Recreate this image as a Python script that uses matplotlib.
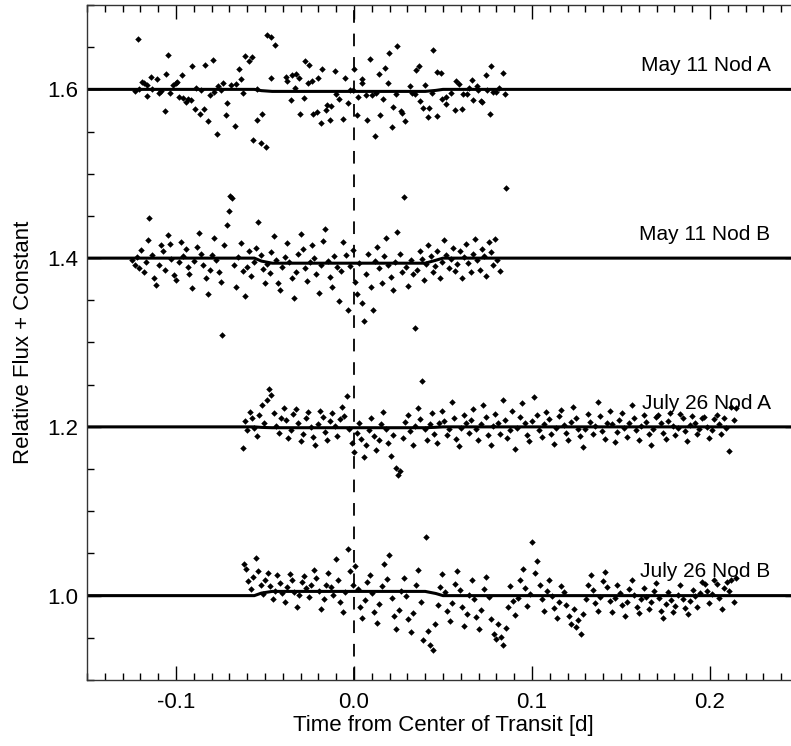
import matplotlib
matplotlib.use("Agg")
import matplotlib.pyplot as plt
from matplotlib.ticker import MultipleLocator

plt.rcParams['font.family'] = ['Liberation Sans', 'DejaVu Sans']

# May 11 Nod A (offset +0.6)
mayA_t = [-0.1213, -0.1232, -0.1208, -0.1189, -0.1180, -0.1161, -0.1165, -0.1142, -0.1133, -0.1109,
          -0.1096, -0.1086, -0.1064, -0.1058, -0.1043, -0.1034, -0.1017, -0.1002, -0.0993, -0.0983,
          -0.0964, -0.0959, -0.0942, -0.0933, -0.0918, -0.0912, -0.0893, -0.0886, -0.0867, -0.0861,
          -0.0843, -0.0837, -0.0818, -0.0811, -0.0792, -0.0785, -0.0768, -0.0762, -0.0749, -0.0736,
          -0.0717, -0.0712, -0.0693, -0.0671, -0.0665, -0.0646, -0.0637, -0.0622, -0.0612, -0.0590,
          -0.0571, -0.0566, -0.0543, -0.0543, -0.0524, -0.0515, -0.0496, -0.0491, -0.0468, -0.0464,
          -0.0446, -0.0384, -0.0378, -0.0356, -0.0350, -0.0331, -0.0328, -0.0309, -0.0303, -0.0280,
          -0.0277, -0.0258, -0.0253, -0.0234, -0.0228, -0.0206, -0.0202, -0.0183, -0.0178, -0.0159,
          -0.0154, -0.0131, -0.0135, -0.0109, -0.0099, -0.0084, -0.0060, -0.0052, -0.0034, -0.0022,
          -0.0004, 0.0000, 0.0015, 0.0024, 0.0043, 0.0047, 0.0071, 0.0066, 0.0090, 0.0099,
          0.0116, 0.0122, 0.0140, 0.0146, 0.0165, 0.0172, 0.0191, 0.0197, 0.0212, 0.0219,
          0.0238, 0.0243, 0.0262, 0.0268, 0.0287, 0.0315, 0.0324, 0.0341, 0.0346, 0.0365,
          0.0371, 0.0390, 0.0397, 0.0421, 0.0416, 0.0440, 0.0446, 0.0468, 0.0464, 0.0490,
          0.0496, 0.0515, 0.0519, 0.0543, 0.0566, 0.0571, 0.0590, 0.0609, 0.0614, 0.0637,
          0.0646, 0.0665, 0.0668, 0.0693, 0.0697, 0.0715, 0.0721, 0.0740, 0.0745, 0.0764,
          0.0768, 0.0783, 0.0796, 0.0815, 0.0837, 0.0848]
mayA_f = [1.6593, 1.5980, 1.6008, 1.6087, 1.6075, 1.6047, 1.5920, 1.6146, 1.6008, 1.6119,
          1.5960, 1.5976, 1.5743, 1.6178, 1.6411, 1.5960, 1.6047, 1.6075, 1.6087, 1.5909,
          1.6174, 1.5897, 1.5850, 1.5889, 1.5877, 1.6277, 1.5771, 1.6020, 1.5711, 1.5996,
          1.5771, 1.6293, 1.5624, 1.5929, 1.6352, 1.5968, 1.5466, 1.6040, 1.5996, 1.6079,
          1.5692, 1.5838, 1.6047, 1.5565, 1.6059, 1.6237, 1.6119, 1.5960, 1.6395, 1.6332,
          1.6384, 1.5403, 1.5632, 1.6000, 1.5363, 1.5711, 1.5316, 1.6640, 1.6621, 1.6138,
          1.6522, 1.6146, 1.6099, 1.5877, 1.6174, 1.6016, 1.6186, 1.6134, 1.5711, 1.5897,
          1.6332, 1.6079, 1.6293, 1.6095, 1.5703, 1.5731, 1.6134, 1.5601, 1.6237, 1.5751,
          1.5810, 1.5798, 1.5632, 1.6217, 1.5941, 1.5889, 1.5652, 1.6134, 1.5838, 1.5988,
          1.5988, 1.6237, 1.5699, 1.5909, 1.6075, 1.6119, 1.5632, 1.5929, 1.6364, 1.5929,
          1.5442, 1.5960, 1.6178, 1.5692, 1.5889, 1.6253, 1.6075, 1.6435, 1.5553, 1.5790,
          1.5941, 1.6514, 1.5739, 1.5723, 1.5620, 1.6036, 1.5957, 1.5949, 1.6225, 1.6277,
          1.5858, 1.5783, 1.6055, 1.5779, 1.5672, 1.5960, 1.6463, 1.6206, 1.5684, 1.6194,
          1.5889, 1.5830, 1.5909, 1.5957, 1.5751, 1.6095, 1.6059, 1.5771, 1.5941, 1.5941,
          1.6020, 1.6115, 1.5877, 1.6036, 1.5996, 1.5862, 1.5850, 1.6166, 1.5996, 1.5703,
          1.6277, 1.5968, 1.5968, 1.6016, 1.6198, 1.5949]

# May 11 Nod B (offset +0.4), (time, flux)
mayB = [(-0.1245, 1.398), (-0.1233, 1.392), (-0.1219, 1.401), (-0.1207, 1.388), (-0.1196, 1.410),
        (-0.1181, 1.383), (-0.1168, 1.396), (-0.1157, 1.421), (-0.1149, 1.447), (-0.1136, 1.404),
        (-0.1121, 1.376), (-0.1112, 1.368), (-0.1097, 1.392), (-0.1085, 1.415), (-0.1071, 1.409),
        (-0.1062, 1.386), (-0.1047, 1.428), (-0.1035, 1.417), (-0.1026, 1.399), (-0.1009, 1.380),
        (-0.0998, 1.374), (-0.0985, 1.395), (-0.0970, 1.419), (-0.0961, 1.402), (-0.0946, 1.411),
        (-0.0932, 1.389), (-0.0925, 1.381), (-0.0909, 1.364), (-0.0897, 1.397), (-0.0884, 1.413),
        (-0.0870, 1.430), (-0.0862, 1.405), (-0.0848, 1.392), (-0.0833, 1.377), (-0.0821, 1.358),
        (-0.0810, 1.386), (-0.0797, 1.404), (-0.0784, 1.424), (-0.0773, 1.398), (-0.0760, 1.383),
        (-0.0749, 1.372), (-0.0740, 1.309), (-0.0728, 1.415), (-0.0716, 1.439), (-0.0705, 1.456),
        (-0.0697, 1.474), (-0.0686, 1.471), (-0.0674, 1.392), (-0.0663, 1.366), (-0.0651, 1.401),
        (-0.0637, 1.418), (-0.0626, 1.385), (-0.0614, 1.355), (-0.0602, 1.390), (-0.0588, 1.408),
        (-0.0577, 1.379), (-0.0563, 1.396), (-0.0551, 1.412), (-0.0539, 1.443), (-0.0525, 1.404),
        (-0.0513, 1.387), (-0.0502, 1.370), (-0.0489, 1.393), (-0.0474, 1.382), (-0.0466, 1.407),
        (-0.0451, 1.426), (-0.0440, 1.398), (-0.0426, 1.371), (-0.0413, 1.362), (-0.0402, 1.389),
        (-0.0388, 1.401), (-0.0375, 1.418), (-0.0364, 1.395), (-0.0350, 1.377), (-0.0337, 1.353),
        (-0.0326, 1.384), (-0.0312, 1.405), (-0.0300, 1.429), (-0.0287, 1.411), (-0.0275, 1.388),
        (-0.0262, 1.373), (-0.0250, 1.396), (-0.0237, 1.415), (-0.0224, 1.400), (-0.0211, 1.381),
        (-0.0199, 1.359), (-0.0186, 1.392), (-0.0173, 1.420), (-0.0162, 1.434), (-0.0148, 1.397),
        (-0.0136, 1.378), (-0.0122, 1.366), (-0.0110, 1.402), (-0.0097, 1.389), (-0.0084, 1.349),
        (-0.0071, 1.385), (-0.0060, 1.419), (-0.0046, 1.404), (-0.0033, 1.338), (-0.0021, 1.391),
        (-0.0008, 1.410), (0.0005, 1.372), (0.0017, 1.358), (0.0030, 1.394), (0.0043, 1.347),
        (0.0055, 1.326), (0.0068, 1.381), (0.0079, 1.405), (0.0093, 1.366), (0.0105, 1.339),
        (0.0117, 1.397), (0.0131, 1.413), (0.0142, 1.388), (0.0156, 1.371), (0.0168, 1.402),
        (0.0181, 1.424), (0.0193, 1.392), (0.0206, 1.378), (0.0218, 1.362), (0.0231, 1.395),
        (0.0244, 1.431), (0.0256, 1.405), (0.0269, 1.384), (0.0281, 1.472), (0.0294, 1.389),
        (0.0306, 1.367), (0.0319, 1.398), (0.0331, 1.381), (0.0343, 1.317), (0.0356, 1.386),
        (0.0368, 1.408), (0.0381, 1.399), (0.0393, 1.374), (0.0406, 1.393), (0.0418, 1.416),
        (0.0431, 1.402), (0.0443, 1.383), (0.0456, 1.391), (0.0469, 1.409), (0.0481, 1.377),
        (0.0494, 1.396), (0.0506, 1.421), (0.0518, 1.404), (0.0531, 1.388), (0.0544, 1.399),
        (0.0556, 1.412), (0.0568, 1.385), (0.0581, 1.393), (0.0594, 1.408), (0.0606, 1.376),
        (0.0618, 1.401), (0.0631, 1.417), (0.0643, 1.394), (0.0656, 1.383), (0.0668, 1.405),
        (0.0681, 1.423), (0.0693, 1.398), (0.0706, 1.386), (0.0718, 1.411), (0.0731, 1.402),
        (0.0743, 1.379), (0.0756, 1.419), (0.0768, 1.407), (0.0781, 1.392), (0.0793, 1.423),
        (0.0806, 1.398), (0.0818, 1.385), (0.0854, 1.483)]

# July 26 Nod A (offset +0.2), (time, flux)
julA = [(-0.0625, 1.175), (-0.0612, 1.207), (-0.0601, 1.196), (-0.0585, 1.218), (-0.0572, 1.211),
        (-0.0559, 1.199), (-0.0545, 1.189), (-0.0531, 1.214), (-0.0519, 1.226), (-0.0504, 1.205),
        (-0.0491, 1.232), (-0.0478, 1.245), (-0.0466, 1.238), (-0.0450, 1.216), (-0.0437, 1.201),
        (-0.0422, 1.193), (-0.0410, 1.210), (-0.0395, 1.222), (-0.0381, 1.208), (-0.0368, 1.187),
        (-0.0354, 1.196), (-0.0340, 1.215), (-0.0327, 1.221), (-0.0313, 1.205), (-0.0299, 1.183),
        (-0.0286, 1.192), (-0.0271, 1.211), (-0.0258, 1.218), (-0.0244, 1.200), (-0.0231, 1.188),
        (-0.0217, 1.179), (-0.0204, 1.203), (-0.0190, 1.219), (-0.0176, 1.212), (-0.0163, 1.194),
        (-0.0149, 1.185), (-0.0136, 1.207), (-0.0122, 1.216), (-0.0108, 1.201), (-0.0095, 1.189),
        (-0.0081, 1.209), (-0.0067, 1.224), (-0.0054, 1.213), (-0.0040, 1.236), (-0.0026, 1.198),
        (-0.0013, 1.181), (0.0001, 1.170), (0.0015, 1.193), (0.0029, 1.205), (0.0042, 1.186),
        (0.0056, 1.164), (0.0070, 1.178), (0.0083, 1.196), (0.0097, 1.211), (0.0111, 1.189),
        (0.0124, 1.172), (0.0138, 1.184), (0.0152, 1.203), (0.0165, 1.218), (0.0179, 1.197),
        (0.0193, 1.181), (0.0206, 1.166), (0.0220, 1.190), (0.0234, 1.151), (0.0247, 1.143),
        (0.0261, 1.148), (0.0275, 1.187), (0.0288, 1.206), (0.0302, 1.214), (0.0316, 1.195),
        (0.0329, 1.179), (0.0343, 1.201), (0.0357, 1.222), (0.0370, 1.209), (0.0384, 1.254),
        (0.0398, 1.198), (0.0411, 1.184), (0.0425, 1.203), (0.0439, 1.216), (0.0452, 1.192),
        (0.0466, 1.181), (0.0480, 1.205), (0.0493, 1.219), (0.0507, 1.207), (0.0521, 1.190),
        (0.0534, 1.198), (0.0548, 1.229), (0.0562, 1.211), (0.0575, 1.186), (0.0589, 1.177),
        (0.0603, 1.199), (0.0616, 1.214), (0.0630, 1.205), (0.0644, 1.193), (0.0657, 1.208),
        (0.0671, 1.221), (0.0685, 1.197), (0.0698, 1.184), (0.0712, 1.203), (0.0726, 1.226),
        (0.0739, 1.212), (0.0753, 1.190), (0.0767, 1.179), (0.0780, 1.201), (0.0794, 1.215),
        (0.0808, 1.204), (0.0821, 1.192), (0.0835, 1.232), (0.0849, 1.208), (0.0862, 1.187),
        (0.0876, 1.196), (0.0890, 1.219), (0.0903, 1.174), (0.0917, 1.199), (0.0931, 1.212),
        (0.0944, 1.228), (0.0958, 1.205), (0.0972, 1.190), (0.0985, 1.183), (0.0999, 1.207),
        (0.1013, 1.235), (0.1026, 1.214), (0.1040, 1.196), (0.1054, 1.188), (0.1067, 1.203),
        (0.1081, 1.218), (0.1095, 1.209), (0.1108, 1.191), (0.1122, 1.180), (0.1136, 1.199),
        (0.1149, 1.213), (0.1163, 1.220), (0.1177, 1.202), (0.1190, 1.193), (0.1204, 1.185),
        (0.1218, 1.206), (0.1231, 1.224), (0.1245, 1.211), (0.1259, 1.197), (0.1272, 1.189),
        (0.1286, 1.176), (0.1300, 1.198), (0.1313, 1.215), (0.1327, 1.206), (0.1341, 1.192),
        (0.1354, 1.201), (0.1368, 1.229), (0.1382, 1.213), (0.1395, 1.195), (0.1409, 1.186),
        (0.1423, 1.204), (0.1436, 1.219), (0.1450, 1.203), (0.1464, 1.182), (0.1477, 1.194),
        (0.1491, 1.208), (0.1504, 1.217), (0.1518, 1.199), (0.1532, 1.188), (0.1545, 1.205),
        (0.1559, 1.226), (0.1573, 1.211), (0.1586, 1.196), (0.1600, 1.184), (0.1614, 1.201),
        (0.1627, 1.214), (0.1641, 1.206), (0.1655, 1.192), (0.1668, 1.179), (0.1682, 1.198),
        (0.1696, 1.212), (0.1709, 1.214), (0.1723, 1.204), (0.1737, 1.193), (0.1750, 1.186),
        (0.1764, 1.207), (0.1777, 1.216), (0.1791, 1.201), (0.1805, 1.190), (0.1818, 1.199),
        (0.1832, 1.215), (0.1846, 1.210), (0.1859, 1.195), (0.1873, 1.183), (0.1887, 1.202),
        (0.1900, 1.213), (0.1914, 1.205), (0.1928, 1.191), (0.1941, 1.198), (0.1955, 1.211),
        (0.1969, 1.212), (0.1982, 1.200), (0.1996, 1.187), (0.2010, 1.196), (0.2023, 1.209),
        (0.2037, 1.214), (0.2051, 1.203), (0.2064, 1.192), (0.2078, 1.210), (0.2092, 1.199),
        (0.2105, 1.171), (0.2119, 1.223), (0.2133, 1.208), (0.2146, 1.222)]

# July 26 Nod B (no offset), (time, flux)
julB = [(-0.0620, 1.038), (-0.0607, 1.031), (-0.0594, 1.017), (-0.0580, 1.008), (-0.0566, 1.022),
        (-0.0553, 1.045), (-0.0539, 1.029), (-0.0525, 1.013), (-0.0512, 1.002), (-0.0498, 1.019),
        (-0.0485, 1.027), (-0.0471, 1.011), (-0.0457, 0.996), (-0.0444, 1.006), (-0.0430, 1.024),
        (-0.0416, 1.015), (-0.0403, 1.003), (-0.0389, 0.992), (-0.0376, 1.010), (-0.0362, 1.026),
        (-0.0348, 1.018), (-0.0335, 1.004), (-0.0321, 0.987), (-0.0307, 1.001), (-0.0294, 1.016),
        (-0.0280, 1.023), (-0.0267, 1.009), (-0.0253, 0.998), (-0.0239, 1.012), (-0.0226, 1.030),
        (-0.0212, 1.021), (-0.0198, 1.005), (-0.0185, 0.984), (-0.0171, 0.996), (-0.0158, 1.013),
        (-0.0144, 1.027), (-0.0130, 1.010), (-0.0117, 1.001), (-0.0103, 1.043), (-0.0089, 1.018),
        (-0.0076, 0.993), (-0.0062, 0.980), (-0.0048, 1.004), (-0.0035, 1.055), (-0.0021, 1.029),
        (-0.0007, 1.012), (0.0006, 1.035), (0.0020, 1.008), (0.0034, 0.986), (0.0047, 0.974),
        (0.0061, 0.995), (0.0074, 1.016), (0.0088, 1.025), (0.0102, 1.003), (0.0115, 0.981),
        (0.0129, 0.968), (0.0143, 0.990), (0.0156, 1.011), (0.0170, 1.037), (0.0184, 1.020),
        (0.0197, 1.048), (0.0211, 0.997), (0.0224, 0.976), (0.0238, 0.961), (0.0252, 0.983),
        (0.0265, 1.006), (0.0279, 1.021), (0.0293, 0.999), (0.0306, 0.972), (0.0320, 0.957),
        (0.0334, 0.979), (0.0347, 1.012), (0.0361, 1.030), (0.0374, 0.993), (0.0388, 0.947),
        (0.0402, 1.070), (0.0415, 0.958), (0.0429, 0.942), (0.0443, 0.935), (0.0456, 0.966),
        (0.0470, 0.989), (0.0484, 1.010), (0.0497, 1.026), (0.0511, 1.004), (0.0524, 0.982),
        (0.0538, 0.970), (0.0552, 0.991), (0.0565, 1.014), (0.0579, 1.029), (0.0593, 1.007),
        (0.0606, 0.986), (0.0620, 0.964), (0.0634, 0.978), (0.0647, 1.001), (0.0661, 1.019),
        (0.0674, 0.996), (0.0688, 0.975), (0.0702, 0.961), (0.0715, 0.983), (0.0729, 1.008),
        (0.0743, 1.022), (0.0756, 0.998), (0.0770, 0.972), (0.0784, 0.955), (0.0797, 0.948),
        (0.0811, 0.966), (0.0824, 0.951), (0.0838, 0.941), (0.0852, 0.962), (0.0865, 0.987),
        (0.0879, 1.011), (0.0893, 0.994), (0.0906, 0.977), (0.0920, 0.997), (0.0934, 1.018),
        (0.0947, 1.031), (0.0961, 1.009), (0.0974, 0.988), (0.0988, 1.002), (0.1002, 1.063),
        (0.1015, 1.027), (0.1029, 1.041), (0.1043, 1.013), (0.1056, 0.996), (0.1070, 0.982),
        (0.1084, 1.005), (0.1097, 1.019), (0.1111, 0.999), (0.1124, 0.985), (0.1138, 0.973),
        (0.1152, 0.992), (0.1165, 1.011), (0.1179, 1.004), (0.1193, 0.989), (0.1206, 0.976),
        (0.1220, 0.966), (0.1234, 0.984), (0.1247, 0.963), (0.1261, 0.971), (0.1274, 0.955),
        (0.1288, 0.978), (0.1302, 0.996), (0.1315, 1.013), (0.1329, 1.024), (0.1343, 1.007),
        (0.1356, 0.991), (0.1370, 0.982), (0.1384, 0.998), (0.1397, 1.017), (0.1411, 1.028),
        (0.1424, 1.010), (0.1438, 0.994), (0.1452, 0.981), (0.1465, 0.997), (0.1479, 1.012),
        (0.1493, 1.003), (0.1506, 0.989), (0.1520, 0.976), (0.1534, 0.992), (0.1547, 1.008),
        (0.1561, 1.018), (0.1574, 1.001), (0.1588, 0.987), (0.1602, 0.979), (0.1615, 0.996),
        (0.1629, 1.009), (0.1643, 0.998), (0.1656, 0.984), (0.1670, 0.993), (0.1684, 1.006),
        (0.1697, 1.015), (0.1711, 0.997), (0.1724, 0.982), (0.1738, 0.973), (0.1752, 0.990),
        (0.1765, 1.004), (0.1779, 0.995), (0.1793, 0.980), (0.1806, 0.988), (0.1820, 1.001),
        (0.1834, 1.012), (0.1847, 0.996), (0.1861, 0.985), (0.1874, 0.978), (0.1888, 0.994),
        (0.1902, 1.007), (0.1915, 0.999), (0.1929, 0.986), (0.1943, 1.003), (0.1956, 1.016),
        (0.1970, 1.014), (0.1984, 1.005), (0.1997, 0.991), (0.2011, 1.002), (0.2024, 1.018),
        (0.2038, 1.014), (0.2052, 0.997), (0.2065, 0.984), (0.2079, 1.009), (0.2093, 1.016),
        (0.2106, 1.006), (0.2120, 1.018), (0.2134, 0.993), (0.2147, 1.021)]

# model curves (vertices)
model_t = [-0.15, -0.056, -0.052, -0.046, 0.040, 0.046, 0.050, 0.25]
mayA_model = [1.600, 1.600, 1.5985, 1.5976, 1.5976, 1.5988, 1.600, 1.600]
mayB_model = [1.400, 1.400, 1.3965, 1.394, 1.394, 1.3975, 1.400, 1.400]
julA_model = [1.200, 1.200, 1.1994, 1.199, 1.199, 1.1995, 1.200, 1.200]
julB_model = [1.000, 1.000, 1.003, 1.005, 1.005, 1.0025, 1.000, 1.000]

labels = ['May 11 Nod A', 'May 11 Nod B', 'July 26 Nod A', 'July 26 Nod B']
label_y = [1.6217, 1.4217, 1.2217, 1.0217]

fig = plt.figure(figsize=(7.91, 7.46), dpi=100)
ax = fig.add_axes([87 / 791, 66 / 746, 712 / 791, 675 / 746])

series = [(mayA_t, mayA_f)] + [tuple(zip(*s)) for s in (mayB, julA, julB)]
for t, f in series:
    ax.plot(t, f, 'kD', ms=3.3, mew=0)
for m in [mayA_model, mayB_model, julA_model, julB_model]:
    ax.plot(model_t, m, color='black', lw=2.2)

ax.axvline(0.0, color='black', lw=1.3, ls=(0, (7, 6)))

for lab, ly in zip(labels, label_y):
    ax.text(0.234, ly, lab, ha='right', va='baseline', fontsize=15)

ax.set_xlim(-0.15, 0.25)
ax.set_ylim(0.9, 1.7)
ax.xaxis.set_major_locator(MultipleLocator(0.1))
ax.xaxis.set_minor_locator(MultipleLocator(0.01))
ax.yaxis.set_major_locator(MultipleLocator(0.2))
ax.yaxis.set_minor_locator(MultipleLocator(0.05))
ax.xaxis.set_major_formatter(plt.FormatStrFormatter('%.1f'))
ax.yaxis.set_major_formatter(plt.FormatStrFormatter('%.1f'))
ax.tick_params(which='both', direction='in', top=True, right=True, labelsize=16, width=1)
ax.tick_params(which='major', length=10)
ax.tick_params(which='minor', length=5)
ax.tick_params(axis='x', pad=9)
ax.tick_params(axis='y', pad=6)
for s in ax.spines.values():
    s.set_linewidth(1)
    s.set_color('#333333')

ax.set_xlabel('Time from Center of Transit [d]', fontsize=16, labelpad=1)
ax.set_ylabel('Relative Flux + Constant', fontsize=16, labelpad=10)

fig.savefig('out.png', dpi=100)
